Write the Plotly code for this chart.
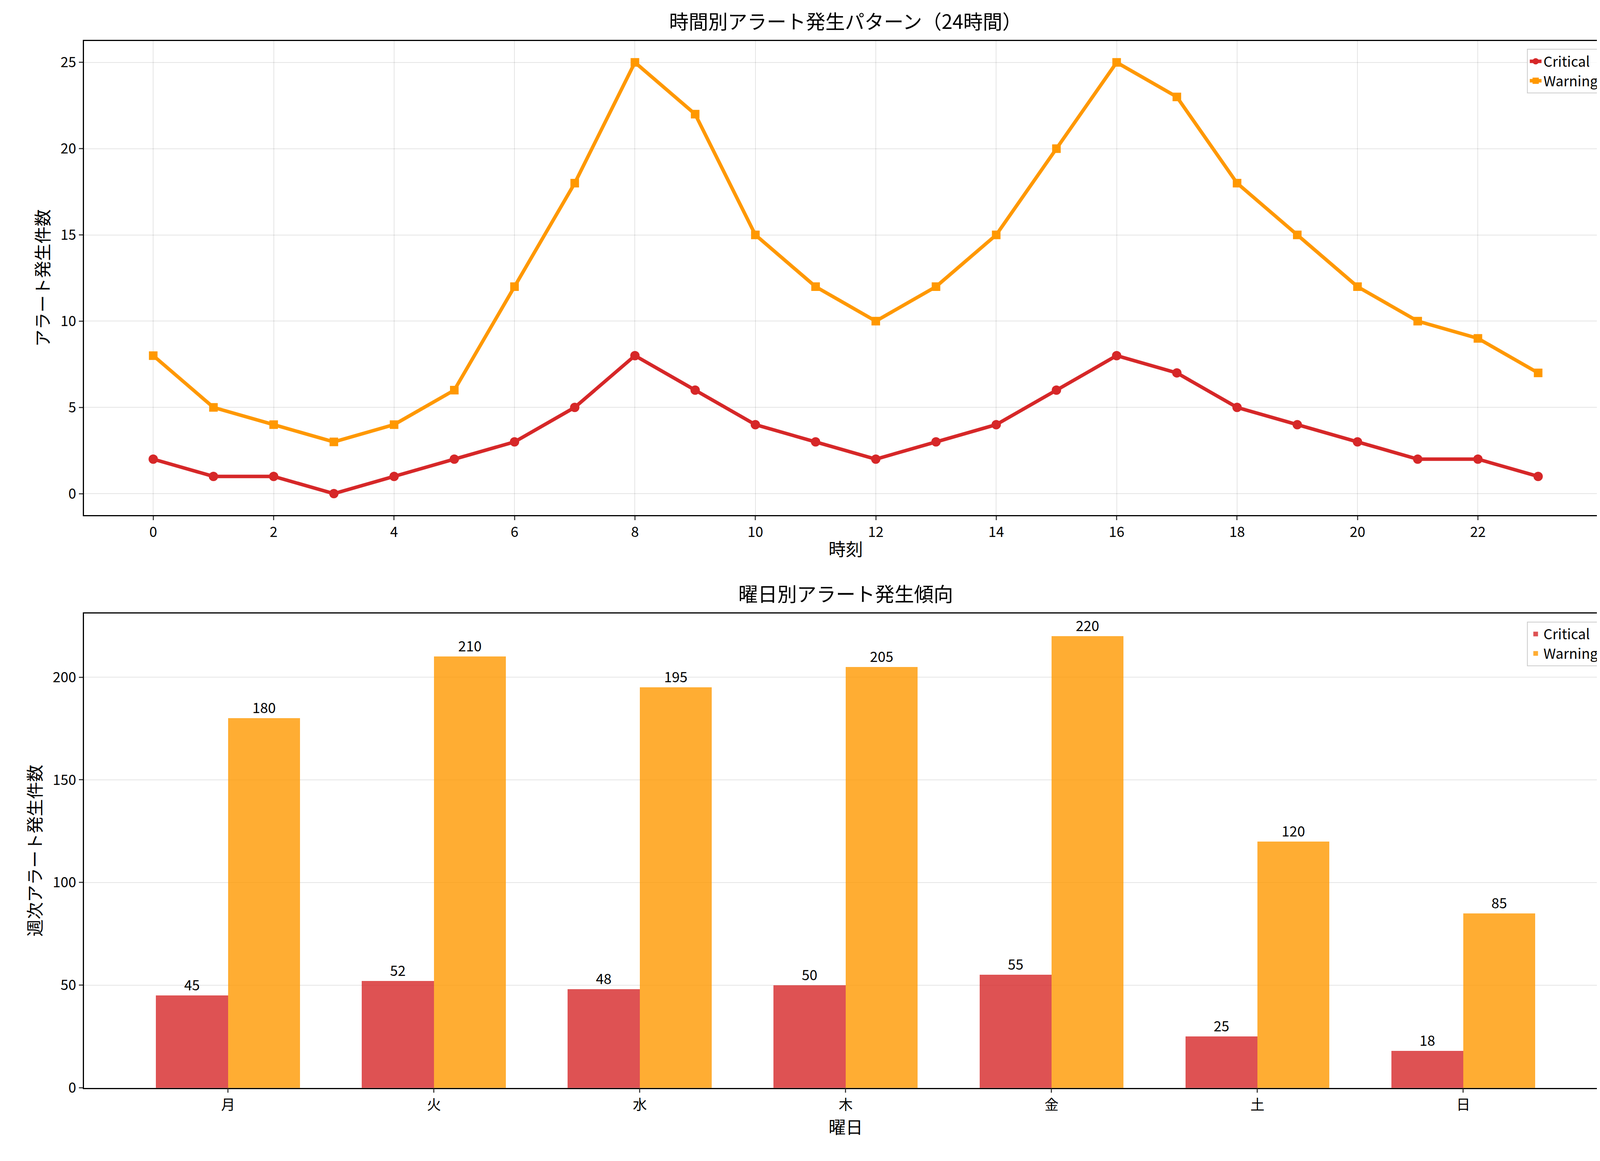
import plotly.graph_objects as go

hours = list(range(24))
crit_h = [2,1,1,0,1,2,3,5,8,6,4,3,2,3,4,6,8,7,5,4,3,2,2,1]
warn_h = [8,5,4,3,4,6,12,18,25,22,15,12,10,12,15,20,25,23,18,15,12,10,9,7]
days = ["月","火","水","木","金","土","日"]
crit_d = [45,52,48,50,55,25,18]
warn_d = [180,210,195,205,220,120,85]

F = "Noto Sans CJK JP"
RED = "#d62728"; ORG = "#ff9800"
fig = go.Figure()
fig.add_trace(go.Scatter(x=hours, y=crit_h, mode="lines+markers", name="Critical",
    line=dict(color=RED, width=9), marker=dict(symbol="circle", size=24, color=RED), legend="legend"))
fig.add_trace(go.Scatter(x=hours, y=warn_h, mode="lines+markers", name="Warning",
    line=dict(color=ORG, width=9), marker=dict(symbol="square", size=22, color=ORG), legend="legend"))
idx = list(range(len(days)))
fig.add_trace(go.Bar(x=[i-0.175 for i in idx], y=crit_d, width=0.35, name="Critical",
    marker=dict(color="rgba(214,39,40,0.8)", line=dict(width=0)), text=crit_d, textposition="outside",
    textfont=dict(size=36, color="black"), cliponaxis=False, xaxis="x2", yaxis="y2", legend="legend2"))
fig.add_trace(go.Bar(x=[i+0.175 for i in idx], y=warn_d, width=0.35, name="Warning",
    marker=dict(color="rgba(255,152,0,0.8)", line=dict(width=0)), text=warn_d, textposition="outside",
    textfont=dict(size=36, color="black"), cliponaxis=False, xaxis="x2", yaxis="y2", legend="legend2"))

ax = dict(showline=True, linecolor="black", linewidth=2.5, mirror=True, ticks="outside", ticklen=10,
          tickwidth=2.5, tickfont=dict(size=36, family=F, color="black"), zeroline=False)
grid = dict(showgrid=True, gridcolor="rgba(0,0,0,0.1)", gridwidth=2)
fig.update_layout(
    width=4140, height=2950, plot_bgcolor="white", paper_bgcolor="white",
    font=dict(family=F, size=36, color="black"), margin=dict(l=0, r=0, t=0, b=0),
    barmode="overlay", bargap=0,
    xaxis=dict(domain=[0.05, 0.992], anchor="y", range=[-1.15, 24.15], tickvals=list(range(0,24,2)),
               title=dict(text="時刻", font=dict(size=44), standoff=8), **ax, **grid),
    yaxis=dict(domain=[0.552, 0.967], anchor="x", range=[-1.25, 26.25], tickvals=[0,5,10,15,20,25],
               title=dict(text="アラート発生件数", font=dict(size=44), standoff=15), **ax, **grid),
    xaxis2=dict(domain=[0.05, 0.992], anchor="y2", range=[-0.7, 6.7], tickvals=idx, ticktext=days,
                title=dict(text="曜日", font=dict(size=44), standoff=8), showgrid=False, **ax),
    yaxis2=dict(domain=[0.051, 0.466], anchor="x2", range=[0, 231], tickvals=[0,50,100,150,200],
                title=dict(text="週次アラート発生件数", font=dict(size=44), standoff=15), **ax, **grid),
    legend=dict(x=0.988, y=0.96, xanchor="right", yanchor="top", bgcolor="rgba(255,255,255,0.8)",
                bordercolor="#ccc", borderwidth=2, font=dict(size=36)),
    legend2=dict(x=0.988, y=0.459, xanchor="right", yanchor="top", bgcolor="rgba(255,255,255,0.8)",
                 bordercolor="#ccc", borderwidth=2, font=dict(size=36)),
    annotations=[
        dict(text="時間別アラート発生パターン（24時間）", x=0.521, y=0.972, xref="paper", yref="paper",
             xanchor="center", yanchor="bottom", showarrow=False, font=dict(size=50)),
        dict(text="曜日別アラート発生傾向", x=0.521, y=0.471, xref="paper", yref="paper",
             xanchor="center", yanchor="bottom", showarrow=False, font=dict(size=50)),
    ],
)
fig.write_html("out.html")
